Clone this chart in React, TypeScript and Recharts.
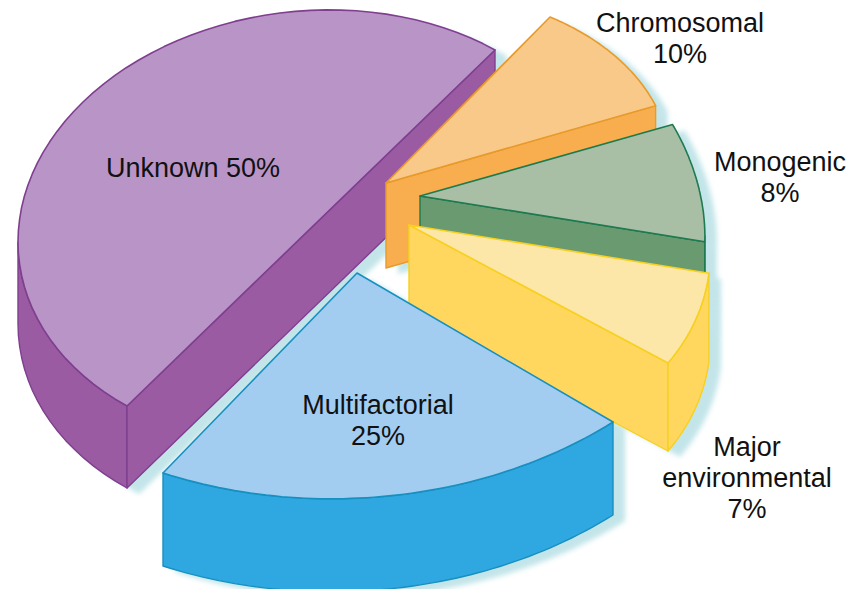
import { PieChart, Pie } from "recharts";

const names = ["Unknown", "Chromosomal", "Monogenic", "Major environmental", "Multifactorial"];
const shares = [50, 10, 8, 7, 25];
const labelLines = [["Unknown 50%"], ["Chromosomal", "10%"], ["Monogenic", "8%"], ["Major", "environmental", "7%"], ["Multifactorial", "25%"]];

const chartData = names.map((name, i) => ({ name, value: shares[i] }));

// 3D look: each slice gets its own apex and projected axes, the angles still come from Pie
const CX = 311;
const CY = 228;
const RADIUS = 100;
const apexes = [[311, 228], [386, 183], [420, 196], [409, 225], [357, 273]];
const axisU = [[184, -178], [164, -166], [127, -190], [154, -180], [194, -200]];
const axisV = [[-228, -126], [-233, -97], [-255, -140], [-259, -138], [-256, -149]];
const arcFlatten = [0, 0, 0, 0, 0.1];
const depths = [82, 85, 88, 88, 93];
const topColors = ["#b995c7", "#f9c98a", "#a9bfa5", "#fde7a8", "#a3cdf0"];
const sideColors = ["#9b5ba3", "#f8ae4e", "#699a70", "#ffd75e", "#2fa7e0"];
const edgeColors = ["#7f3f8f", "#e89a2a", "#1e7a50", "#f7d020", "#1790c0"];
const labelCenters = [193, 680, 780, 747, 378];
const labelBaselines = [177, 32, 171, 456, 414];
const LINE_HEIGHT = 31;

type Pt = [number, number];

const toPath = (pts: Pt[]) => "M" + pts.map((p) => `${p[0].toFixed(1)},${p[1].toFixed(1)}`).join("L") + "Z";

function sliceOutline(i: number, startAngle: number, endAngle: number, outerRadius: number) {
  const lo = Math.min(startAngle, endAngle);
  const hi = Math.max(startAngle, endAngle);
  const scale = outerRadius / RADIUS;
  const apex: Pt = [apexes[i][0], apexes[i][1]];
  const arc: Pt[] = [];
  const steps = 60;
  for (let s = 0; s <= steps; s++) {
    const t = s / steps;
    const a = ((lo + (hi - lo) * t) * Math.PI) / 180;
    const k = scale * (1 - arcFlatten[i] * 4 * t * (1 - t));
    arc.push([
      apex[0] + k * (Math.cos(a) * axisU[i][0] + Math.sin(a) * axisV[i][0]),
      apex[1] + k * (Math.cos(a) * axisU[i][1] + Math.sin(a) * axisV[i][1]),
    ]);
  }
  // a half pie has one straight cut, not two radii
  const isHalf = Math.abs(hi - lo - 180) < 0.01;
  const parts: Pt[][] = isHalf
    ? [arc, [arc[arc.length - 1], arc[0]]]
    : [[apex, arc[0]], arc, [arc[arc.length - 1], apex]];
  return { apex, arc, parts, top: isHalf ? arc : [apex, ...arc] };
}

// walls seen from above: edges running left to right in counter clockwise order
function frontWalls(parts: Pt[][], depth: number) {
  const walls: Pt[][] = [];
  parts.forEach((part) => {
    let run: Pt[] = [];
    for (let j = 0; j < part.length - 1; j++) {
      if (part[j + 1][0] > part[j][0]) {
        if (!run.length) run.push(part[j]);
        run.push(part[j + 1]);
      } else if (run.length) {
        walls.push(run);
        run = [];
      }
    }
    if (run.length) walls.push(run);
  });
  return walls.map((run) => [...run, ...[...run].reverse().map((p): Pt => [p[0], p[1] + depth])]);
}

const indexOf = (props: any) => names.indexOf(props.name ?? props.payload?.name);

const SliceShape = (props: any) => {
  const i = indexOf(props);
  const { parts, top } = sliceOutline(i, props.startAngle, props.endAngle, props.outerRadius);
  const walls = frontWalls(parts, depths[i]);
  return (
    <g strokeLinejoin="round">
      {walls.map((w, k) => (
        <path key={k} d={toPath(w)} fill={sideColors[i]} stroke={edgeColors[i]} strokeWidth={1.4} />
      ))}
      <path d={toPath(top)} fill={topColors[i]} stroke={edgeColors[i]} strokeWidth={1.6} />
    </g>
  );
};

const ShadowShape = (props: any) => {
  const i = indexOf(props);
  const { parts, top } = sliceOutline(i, props.startAngle, props.endAngle, props.outerRadius);
  const walls = frontWalls(parts, depths[i]);
  return (
    <g transform="translate(12,6)" style={{ filter: "blur(2.5px)" }}>
      {walls.map((w, k) => (
        <path key={k} d={toPath(w)} fill="#c3e5e9" />
      ))}
      <path d={toPath(top)} fill="#c3e5e9" />
    </g>
  );
};

const renderLabel = (props: any) => {
  const i = indexOf(props);
  return (
    <text key={i} textAnchor="middle" fontFamily="Liberation Sans, Arial, sans-serif" fontSize={27} fill="#111">
      {labelLines[i].map((line, k) => (
        <tspan key={k} x={labelCenters[i]} y={labelBaselines[i] + k * LINE_HEIGHT}>
          {line}
        </tspan>
      ))}
    </text>
  );
};

export default function App() {
  return (
    <div style={{ position: "absolute", left: 0, top: 0, width: 856, height: 589, background: "#fff" }}>
      <PieChart width={856} height={589} margin={{ top: 0, right: 0, bottom: 0, left: 0 }}>
        <Pie
          data={chartData}
          dataKey="value"
          nameKey="name"
          cx={CX}
          cy={CY}
          innerRadius={0}
          outerRadius={RADIUS}
          startAngle={180}
          endAngle={-180}
          paddingAngle={0}
          isAnimationActive={false}
          shape={ShadowShape}
        />
        <Pie
          data={chartData}
          dataKey="value"
          nameKey="name"
          cx={CX}
          cy={CY}
          innerRadius={0}
          outerRadius={RADIUS}
          startAngle={180}
          endAngle={-180}
          paddingAngle={0}
          isAnimationActive={false}
          shape={SliceShape}
          label={renderLabel}
          labelLine={false}
        />
      </PieChart>
    </div>
  );
}
